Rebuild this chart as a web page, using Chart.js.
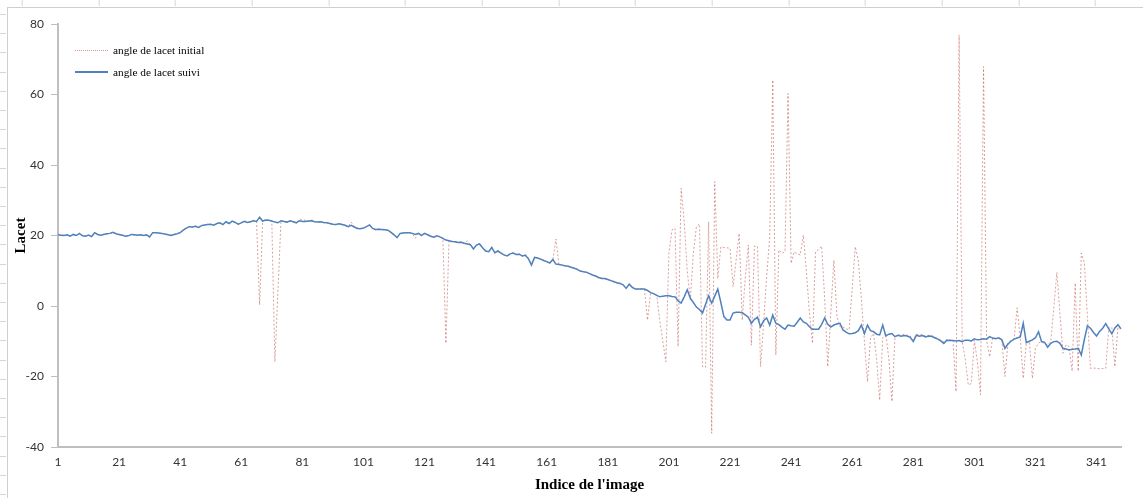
<!DOCTYPE html>
<html>
<head>
<meta charset="utf-8">
<title>Angle de lacet</title>
<script src="https://cdn.jsdelivr.net/npm/chart.js@4.4.1/dist/chart.umd.min.js"></script>
<style>
  html, body { margin: 0; padding: 0; background: #fff; }
  #wrap { position: relative; width: 1143px; height: 498px; overflow: hidden; }
  #chart { position: absolute; left: 0; top: 0; }
  /* sheet frame round the chart object */
  #frame { position: absolute; left: 7px; top: 7px; width: 1140px; height: 500px;
           border-left: 1px solid #cfcfcf; border-top: 1px solid #cfcfcf; }
  #colmarks { position: absolute; left: 0; top: 0; width: 1143px; height: 6px;
              background: repeating-linear-gradient(90deg, transparent 0 21px, #d6d6d6 21px 22px, transparent 22px 76.67px);
              background-position: 0.7px 0; }
  #rowmarks { position: absolute; left: 0; top: 0; width: 6px; height: 498px;
              background: repeating-linear-gradient(180deg, transparent 0 14px, #d6d6d6 14px 15px, transparent 15px 19.2px); }
  #legend { position: absolute; left: 75px; top: 0; font: 11.3px "Liberation Serif", serif; color: #000; }
  .row { position: absolute; left: 0; display: flex; align-items: center; height: 16px; white-space: nowrap; }
  .swatch { width: 33px; height: 0; margin-right: 5px; }
</style>
</head>
<body>
<div id="wrap">
  <div id="colmarks"></div>
  <div id="rowmarks"></div>
  <div id="frame"></div>
  <canvas id="chart" width="1143" height="498"></canvas>
  <div id="legend">
    <div class="row" style="top:42px"><span class="swatch" style="border-top:1px dotted rgba(192,80,77,0.6)"></span>angle de lacet initial</div>
    <div class="row" style="top:64px"><span class="swatch" style="border-top:2px solid #4f81bd"></span>angle de lacet suivi</div>
  </div>
</div>
<script>
// image index on the horizontal axis (1 .. 349)
const frames = Array.from({ length: 349 }, (_, i) => i + 1);
const tickLabels = [1, 21, 41, 61, 81, 101, 121, 141, 161, 181, 201, 221, 241, 261, 281, 301, 321, 341];
const yTicks = [-40, -20, 0, 20, 40, 60, 80];

// raw yaw angle from detection
const lacetInitial = [
  20.3, 20.0, 20.1, 20.1, 19.9, 20.2, 20.1, 20.5, 20.0, 19.9,
  20.0, 19.8, 20.7, 20.4, 20.0, 20.4, 20.4, 20.7, 20.8, 20.6,
  20.2, 20.2, 19.9, 19.8, 20.4, 20.1, 20.2, 20.1, 20.1, 20.1,
  19.7, 20.7, 20.9, 20.6, 20.7, 20.3, 20.3, 20.1, 20.2, 20.6,
  20.7, 21.6, 22.0, 22.6, 22.3, 22.7, 22.2, 22.9, 22.9, 23.2,
  23.1, 23.0, 23.3, 23.7, 23.0, 23.8, 23.5, 24.0, 23.8, 23.1,
  23.7, 23.9, 23.8, 23.8, 24.3, 23.9, 0.3, 24.2, 24.3, 24.4,
  24.0, -15.8, 4.0, 24.3, 23.9, 23.9, 24.1, 24.0, 23.7, 24.4,
  24.5, 24.3, 24.0, 24.4, 24.1, 23.7, 24.0, 23.6, 23.7, 23.3,
  23.3, 23.0, 23.4, 23.2, 22.8, 22.6, 23.8, 22.6, 22.2, 22.0,
  22.0, 22.6, 22.9, 22.1, 21.6, 21.9, 21.6, 21.7, 21.4, 21.1,
  20.4, 19.6, 20.4, 20.8, 20.7, 20.9, 20.5, 19.2, 20.8, 20.2,
  20.5, 20.3, 19.9, 19.4, 19.8, 19.8, 19.3, -10.6, 18.4, 18.4,
  18.1, 18.1, 18.2, 17.7, 18.5, 17.3, 16.5, 17.2, 17.8, 16.4,
  15.7, 15.3, 16.7, 15.0, 15.8, 15.2, 14.4, 14.3, 14.6, 15.2,
  14.5, 14.8, 14.1, 14.6, 13.5, 11.9, 13.6, 13.7, 13.2, 13.0,
  12.5, 12.3, 13.0, 19.0, 11.7, 11.7, 11.3, 11.4, 10.9, 10.8,
  10.5, 9.8, 9.8, 9.5, 9.3, 8.7, 8.6, 8.0, 7.9, 7.7,
  7.6, 7.1, 7.0, 6.5, 6.5, 5.9, 5.2, 6.0, 5.4, 4.9,
  4.7, 4.9, 4.6, -4.0, 3.8, 3.4, 3.1, -4.0, -10.0, -15.8,
  15.0, 21.6, 22.0, -11.5, 33.4, 24.0, 10.0, 1.7, 15.0, 22.5,
  23.3, -17.2, -17.4, 23.9, -36.1, 35.3, 7.8, 16.8, 16.6, 16.5,
  16.4, 5.5, 13.0, 20.6, -4.0, 8.0, 17.3, -11.1, 17.0, 16.9,
  -17.2, -5.0, 8.3, 19.7, 64.1, -13.9, 15.9, 15.0, 15.4, 60.3,
  12.1, 15.4, 14.8, 14.5, 20.1, 10.0, -2.0, -10.6, 15.4, 16.0,
  17.0, 2.0, -17.2, -2.0, 13.0, -3.0, -5.9, -6.0, -6.4, -6.8,
  5.0, 16.8, 13.0, 2.0, -10.0, -21.5, -9.0, -7.8, -15.0, -26.7,
  -9.0, -7.8, -15.0, -27.1, -8.7, -8.0, -8.4, -8.0, -8.3, -8.5,
  -9.6, -8.0, -8.3, -8.0, -8.5, -8.3, -8.4, -8.8, -9.2, -9.6,
  -10.2, -9.5, -9.6, -9.7, -24.3, 76.9, -10.1, -15.0, -22.4, -22.0,
  -9.7, -16.0, -25.2, 67.9, -9.7, -14.4, -9.0, -9.2, -9.2, -9.8,
  -20.0, -10.5, -9.7, -9.3, -0.5, -9.0, -20.5, -10.4, -10.0, -20.5,
  -12.0, -10.5, -10.1, -10.8, -11.0, -10.1, -0.5, 9.5, -2.0, -13.4,
  -11.0, -11.5, -18.5, 6.5, -18.5, 15.0, 12.3, -3.0, -17.7, -17.6,
  -17.7, -17.8, -17.7, -17.7, -6.3, -6.0, -17.2, -5.9, -6.5
];

// tracked yaw angle
const lacetSuivi = [
  20.2, 20.1, 20.0, 20.2, 19.8, 20.3, 20.0, 20.6, 19.9, 19.8,
  20.1, 19.7, 20.8, 20.3, 20.1, 20.3, 20.5, 20.6, 20.9, 20.5,
  20.3, 20.1, 19.8, 19.9, 20.3, 20.2, 20.1, 20.2, 20.0, 20.2,
  19.6, 20.8, 20.8, 20.7, 20.6, 20.4, 20.2, 20.0, 20.3, 20.5,
  20.8, 21.5, 22.1, 22.5, 22.4, 22.6, 22.3, 22.8, 23.0, 23.1,
  23.2, 22.9, 23.4, 23.6, 23.1, 23.9, 23.4, 24.1, 23.7, 23.2,
  23.6, 24.0, 23.7, 23.9, 24.2, 24.0, 25.2, 24.1, 24.4, 24.3,
  24.1, 23.8, 23.6, 24.2, 24.0, 23.8, 24.2, 23.9, 23.6, 24.2,
  24.0, 24.0, 24.1, 24.2, 23.9, 23.8, 23.9, 23.7, 23.6, 23.4,
  23.2, 23.1, 23.3, 23.1, 22.9, 22.5, 22.9, 22.4, 22.0, 21.9,
  22.1, 22.5, 23.0, 22.0, 21.7, 21.8, 21.7, 21.6, 21.5, 20.9,
  20.2, 19.4, 20.6, 20.7, 20.8, 20.8, 20.6, 20.3, 20.6, 20.0,
  20.6, 20.2, 19.8, 19.5, 19.9, 19.6, 19.2, 18.7, 18.5, 18.3,
  18.2, 18.0, 18.1, 17.8, 17.6, 17.4, 16.2, 17.3, 17.6, 16.5,
  15.6, 15.4, 16.6, 15.1, 15.6, 15.0, 14.5, 14.2, 14.8, 15.0,
  14.6, 14.7, 14.2, 14.4, 13.4, 11.6, 13.8, 13.6, 13.3, 12.9,
  12.6, 12.2, 13.2, 11.9, 11.8, 11.6, 11.4, 11.3, 11.0, 10.7,
  10.4, 9.9, 9.7, 9.6, 9.2, 8.8, 8.5, 8.1, 7.8, 7.8,
  7.5, 7.2, 6.9, 6.6, 6.4, 6.0, 5.0, 6.2, 5.3, 4.8,
  4.8, 4.8, 4.8, 4.4, 3.8, 3.5, 3.0, 2.6, 2.8, 2.9,
  2.9, 2.7, 2.6, 1.5, 0.8, 2.6, 4.6, 2.2, 1.0, -0.3,
  -1.0, -2.0, 0.5, 2.9, 0.8, 2.8, 4.8, 1.0, -3.0, -4.0,
  -4.0, -2.0, -1.8, -1.8, -1.9, -2.5, -3.2, -4.9, -3.8, -3.2,
  -5.9, -4.2, -3.4, -5.4, -2.6, -4.9, -5.3, -6.0, -6.6, -5.4,
  -5.6, -5.7, -4.6, -3.4, -4.5, -4.9, -5.9, -6.6, -6.6, -6.6,
  -5.2, -3.4, -5.2, -6.0, -5.4, -5.1, -4.9, -6.8, -7.4, -7.9,
  -7.8, -7.6, -7.0, -5.4, -7.8, -5.4, -7.0, -7.3, -8.0, -8.2,
  -5.4, -8.5, -8.0, -7.8, -8.7, -8.3, -8.6, -8.4, -8.5, -8.9,
  -10.1, -8.3, -8.6, -8.4, -8.8, -8.5, -8.6, -9.0, -9.4, -9.9,
  -10.6, -9.7, -9.8, -9.8, -9.9, -9.8, -10.1, -9.7, -9.7, -9.9,
  -9.3, -9.6, -9.5, -9.3, -9.4, -8.7, -9.1, -9.3, -9.0, -9.6,
  -12.0, -10.8, -10.0, -9.4, -9.1, -8.8, -4.9, -10.4, -10.0, -9.6,
  -9.0, -7.3, -10.1, -10.3, -11.7, -10.6, -10.1, -10.0, -10.6, -12.0,
  -12.2, -12.5, -12.3, -12.2, -12.0, -13.9, -9.5, -5.6, -6.3, -7.5,
  -8.5, -7.2, -6.3, -5.0, -6.5, -7.9, -6.2, -5.3, -6.5
];

const axisGrey = '#bfbfbf';
const tickFont = { family: 'Lato', size: 12 };
const titleFont = { family: 'Liberation Serif', size: 15, weight: 'bold' };

const chart = async () => {
  const ctx = document.getElementById('chart').getContext('2d');

  new Chart(ctx, {
    type: 'line',
    data: {
      labels: frames,
      datasets: [
        {
          label: 'angle de lacet initial',
          data: lacetInitial,
          borderColor: 'rgba(192, 80, 77, 0.55)',
          borderWidth: 1,
          borderDash: [2, 2],
          pointRadius: 0,
          tension: 0,
          order: 2
        },
        {
          label: 'angle de lacet suivi',
          data: lacetSuivi,
          borderColor: '#4f81bd',
          borderWidth: 1.5,
          pointRadius: 0,
          tension: 0,
          order: 1
        }
      ]
    },
    options: {
      responsive: false,
      animation: false,
      layout: { padding: { top: 24, right: 22, left: 0, bottom: 0 } },
      plugins: {
        legend: { display: false },
        tooltip: { enabled: false }
      },
      scales: {
        x: {
          grid: { display: false, drawTicks: false },
          border: { color: axisGrey, width: 2 },
          ticks: {
            autoSkip: false,
            maxRotation: 0,
            padding: 8,
            color: '#333',
            font: tickFont,
            callback: (v, i) => tickLabels.includes(frames[i]) ? String(frames[i]) : ''
          },
          title: { display: true, text: "Indice de l'image", color: '#000', font: titleFont, padding: { top: 0, bottom: 4 } },
          afterFit: (s) => { s.height = 51; }
        },
        y: {
          min: yTicks[0],
          max: yTicks[yTicks.length - 1],
          afterBuildTicks: (s) => { s.ticks = yTicks.map((v) => ({ value: v })); },
          grid: { drawOnChartArea: false, drawTicks: true, tickLength: 7, color: axisGrey, lineWidth: 1 },
          border: { color: axisGrey, width: 2 },
          ticks: { padding: 7, color: '#333', font: tickFont },
          title: { display: true, text: 'Lacet', color: '#000', font: titleFont, padding: { top: 12, bottom: 0 } },
          afterFit: (s) => { s.width = 58; }
        }
      }
    }
  });
};

(function () {
  chart();
})();
</script>
</body>
</html>
